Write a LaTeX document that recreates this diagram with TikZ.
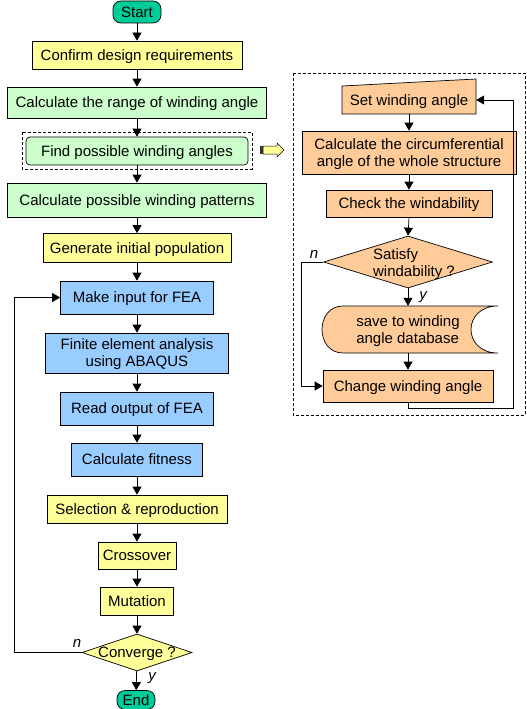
\documentclass[tikz,border=0pt]{standalone}
\usepackage{fontspec}
\setmainfont{Liberation Sans}
\usepackage{tikz}
\usetikzlibrary{arrows.meta,shapes.geometric}

\definecolor{ylw}{HTML}{FFFF99}
\definecolor{grn}{HTML}{CCFFCC}
\definecolor{blu}{HTML}{99CCFF}
\definecolor{org}{HTML}{FFCC99}
\definecolor{termgrn}{HTML}{00CC99}

\begin{document}
\begin{tikzpicture}[x=1pt,y=-1pt,
  every node/.style={font=\fontsize{15}{17}\selectfont,inner sep=0pt,text depth=0pt},
  box/.style={draw,fill=#1,line width=0.7pt,align=center},
  term/.style={draw,fill=termgrn,rounded corners=8pt,line width=0.7pt},
  dmd/.style={draw,fill=#1,diamond,line width=0.7pt},
  lbl/.style={font=\fontsize{15}{17}\selectfont\itshape},
  ln/.style={line width=0.7pt},
  arr/.style={line width=0.7pt,-{Triangle[length=8pt,width=9pt]}},
  frame/.style={line width=0.7pt,dash pattern=on 3pt off 2pt}]
\useasboundingbox (0,0) rectangle (527,709);
%main loop
\node[term,minimum width=48pt,minimum height=22pt] (start) at (137,12) {Start};
\node[box=ylw,minimum width=210pt,minimum height=28pt] (confirm) at (137,55) {Confirm design requirements};
\node[box=grn,minimum width=259pt,minimum height=31pt] (range) at (137,102.5) {Calculate the range of winding angle};
\node[box=grn,rounded corners=4pt,minimum width=222pt,minimum height=28pt] (find) at (137,151) {Find possible winding angles};
\node[box=grn,minimum width=259pt,minimum height=34pt] (patterns) at (137,200) {Calculate possible winding patterns};
\node[box=ylw,minimum width=188pt,minimum height=29pt] (initpop) at (137,248) {Generate initial population};
\node[box=blu,minimum width=153pt,minimum height=33pt] (mkinput) at (137,297.5) {Make input for FEA};
\node[box=blu,minimum width=183pt,minimum height=40pt] (fea) at (137,353) {Finite element analysis\\using ABAQUS};
\node[box=blu,minimum width=153pt,minimum height=33pt] (rdout) at (137,408.5) {Read output of FEA};
\node[box=blu,minimum width=131pt,minimum height=33pt] (fitness) at (137,459.5) {Calculate fitness};
\node[box=ylw,minimum width=180pt,minimum height=28pt] (select) at (137,509) {Selection \& reproduction};
\node[box=ylw,minimum width=78pt,minimum height=27pt] (cross) at (137,555.5) {Crossover};
\node[box=ylw,minimum width=73pt,minimum height=28pt] (mutate) at (137,601) {Mutation};
\node[dmd=ylw,minimum width=110pt,minimum height=37pt] (conv) at (137,652.5) {};
\node (convtxt) at (conv) {Converge ?};
\node[term,minimum width=38pt,minimum height=19pt] (end) at (136,700) {End};
\draw[frame] (22,132) rectangle (252,169);
\draw[arr] (start) -- (confirm);
\draw[arr] (confirm) -- (range);
\draw[arr] (range) -- (find);
\draw[arr] (find) -- (patterns);
\draw[arr] (patterns) -- (initpop);
\draw[arr] (initpop) -- (mkinput);
\draw[arr] (mkinput) -- (fea);
\draw[arr] (fea) -- (rdout);
\draw[arr] (rdout) -- (fitness);
\draw[arr] (fitness) -- (select);
\draw[arr] (select) -- (cross);
\draw[arr] (cross) -- (mutate);
\draw[arr] (mutate) -- (conv);
\draw[arr] (conv) -- (end);
\coordinate (cl) at (14,652.5);
\draw[arr] (conv.west) -- (cl) |- (mkinput.west);
\node[lbl] (nconv) at (77,643) {n};
\node[lbl] (yconv) at (152,677) {y};
%pointer
\filldraw[fill=ylw,line width=0.5pt] (263,146) -- (277,146) -- (277,143) -- (284,150) -- (277,157) -- (277,154) -- (263,154) -- cycle;
\fill[black!80] (260,146) rectangle (263,154);
%winding angle loop
\draw[frame] (293,73) rectangle (525,415);
\filldraw[fill=org,ln] (342,86) -- (476,79) -- (476,114) -- (342,114) -- cycle;
\node[minimum width=134pt,minimum height=28pt] (setang) at (409,100) {Set winding angle};
\node[box=org,minimum width=214pt,minimum height=43pt] (circ) at (409,152.5) {Calculate the circumferential\\angle of the whole structure};
\node[box=org,minimum width=166pt,minimum height=27pt] (check) at (409,203.5) {Check the windability};
\node[dmd=org,minimum width=169pt,minimum height=52pt] (sat) at (408,262) {};
\node[align=left] (sattxt) at (414,263) {Satisfy\\windability ?};
\filldraw[fill=org,ln] (343,306) -- (498,306) .. controls (462,306) and (462,353) .. (498,353) -- (343,353) .. controls (315,353) and (315,306) .. (343,306) -- cycle;
\node[align=left,minimum width=179pt,minimum height=47pt] (save) at (408,329.5) {save to winding\\angle database};
\node[box=org,minimum width=170pt,minimum height=32pt] (change) at (408,386) {Change winding angle};
\draw[arr] (setang.south) -- (circ.north);
\draw[arr] (circ) -- (check);
\draw[arr] (check.south) -- (sat.north);
\draw[arr] (sat.south) -- (save.north);
\draw[arr] (save.south) -- (change.north);
\coordinate (nl) at (301,262);
\draw[arr] (sat.west) -- (nl) |- (change.west);
\coordinate (rr) at (513,408);
\draw[arr] (change.south) |- (rr) |- (setang.east);
\node[lbl] (nsat) at (314,254) {n};
\node[lbl] (ysat) at (423,296) {y};
\end{tikzpicture}
\end{document}
